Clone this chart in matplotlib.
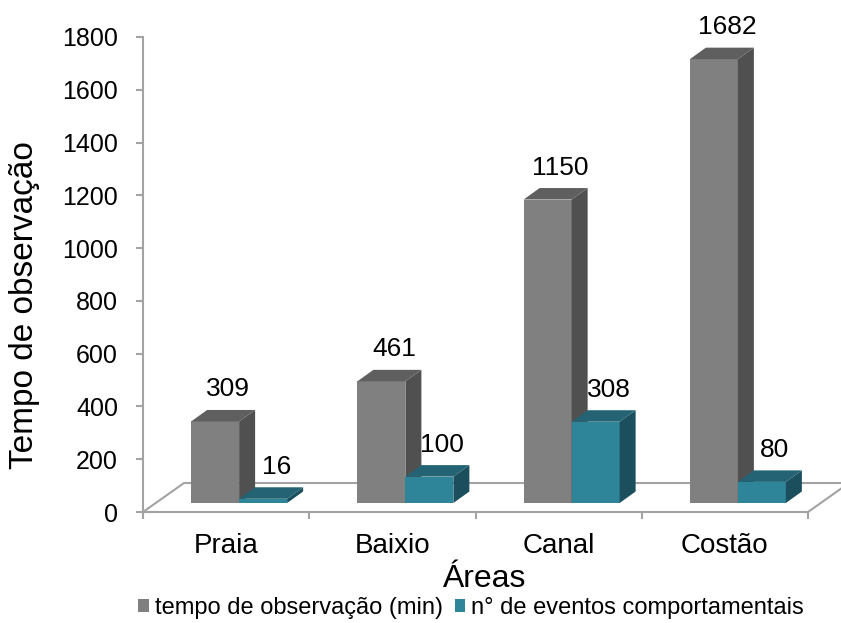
import matplotlib
matplotlib.use("Agg")
import matplotlib.pyplot as plt
from matplotlib.patches import Polygon, Patch

# Data
areas = ["Praia", "Baixio", "Canal", "Costão"]
tempo_min = [309, 461, 1150, 1682]
eventos = [16, 100, 308, 80]
series_names = ["tempo de observação (min)", "n° de eventos comportamentais"]
y_ticks = [0, 200, 400, 600, 800, 1000, 1200, 1400, 1600, 1800]

# Colours for the three visible faces of each prism (front, top, side)
gray_faces = ("#808080", "#5f5f5f", "#505050")
teal_faces = ("#2e8499", "#246373", "#1c4f5d")
axis_col = "#a3a3a3"

plt.rcParams["font.family"] = ["Liberation Sans", "DejaVu Sans"]

W, H, DPI = 841, 623, 100
fig = plt.figure(figsize=(W / DPI, H / DPI), dpi=DPI)
# axes placed in pixel units: left 143, right 808, bottom 512, top 37
ax = fig.add_axes([143 / W, (H - 512) / H, 665 / W, 475 / H])
ax.set_xlim(-0.5, len(areas) - 0.5)
ax.set_ylim(0, 1800)

# data units per screen pixel (used for the oblique depth projection)
ux = (len(areas)) / 665.0
uy = 1800.0 / 475.0

# floor of the 3-D plot
fdx, fdy = 41 * ux, 29 * uy
floor = Polygon([(-0.5, 0), (3.5, 0), (3.5 + fdx, fdy), (-0.5 + fdx, fdy)],
                closed=True, facecolor="white", edgecolor=axis_col,
                linewidth=1.5, clip_on=False, zorder=1)
ax.add_patch(floor)

# bars sit at mid depth of the floor
bx0, by0 = 13 * ux, 9 * uy
bdx, bdy = 16 * ux, 11.5 * uy
bw = 48 * ux


def prism(x0, h, faces):
    x1 = x0 + bw
    xa, ya = x0 + bx0, by0
    xb = x1 + bx0
    top = ya + h
    front = Polygon([(xa, ya), (xb, ya), (xb, top), (xa, top)],
                    facecolor=faces[0], edgecolor="none", clip_on=False, zorder=3)
    lid = Polygon([(xa, top), (xb, top), (xb + bdx, top + bdy), (xa + bdx, top + bdy)],
                  facecolor=faces[1], edgecolor="none", clip_on=False, zorder=3)
    side = Polygon([(xb, ya), (xb + bdx, ya + bdy), (xb + bdx, top + bdy), (xb, top)],
                   facecolor=faces[2], edgecolor="none", clip_on=False, zorder=3)
    for p in (front, side, lid):
        ax.add_patch(p)
    return (xa + xb) / 2, top


for i, (t, e) in enumerate(zip(tempo_min, eventos)):
    cx, top = prism(i - bw, t, gray_faces)
    ax.annotate(str(t), (cx, top), xytext=(13 * 0.72, 25 * 0.72),
                textcoords="offset points", ha="center", va="baseline",
                fontsize=19, color="black", zorder=5)
    cx, top = prism(i, e, teal_faces)
    ax.annotate(str(e), (cx, top), xytext=(13 * 0.72, 25 * 0.72),
                textcoords="offset points", ha="center", va="baseline",
                fontsize=19, color="black", zorder=5)

# axes styling
for s in ("top", "right"):
    ax.spines[s].set_visible(False)
for s in ("left", "bottom"):
    ax.spines[s].set_color(axis_col)
    ax.spines[s].set_linewidth(1.5)
    ax.spines[s].set_zorder(2)

ax.set_yticks(y_ticks)
ax.set_yticklabels([str(v) for v in y_ticks])
ax.tick_params(axis="y", direction="out", length=5, width=1.5, color=axis_col,
               labelsize=18, pad=13)

ax.set_xticks([i - 0.5 for i in range(len(areas) + 1)])
ax.set_xticklabels([])
ax.tick_params(axis="x", which="major", direction="out", length=5, width=1.5,
               color=axis_col)
ax.set_xticks(range(len(areas)), minor=True)
ax.set_xticklabels(areas, minor=True)
ax.tick_params(axis="x", which="minor", length=0, labelsize=20, pad=15)

ax.set_ylabel("Tempo de observação", fontsize=24)
ax.yaxis.set_label_coords((25 - 143) / 665, (512 - 305) / 475)
ax.yaxis.label.set_verticalalignment("center")
ax.set_xlabel("Áreas", fontsize=23)
ax.xaxis.set_label_coords((485 - 143) / 665, (512 - 579) / 475)
ax.xaxis.label.set_verticalalignment("center")

handles = [Patch(facecolor=gray_faces[0], edgecolor="none"),
           Patch(facecolor=teal_faces[0], edgecolor="none")]
fig.legend(handles, series_names, loc="center", ncol=2, frameon=False,
           bbox_to_anchor=(471 / W, (H - 608) / H), fontsize=17,
           handlelength=0.45, handleheight=0.45, handletextpad=0.25,
           columnspacing=0.5, borderpad=0, borderaxespad=0)

fig.savefig("out.png", dpi=DPI, facecolor="white")
